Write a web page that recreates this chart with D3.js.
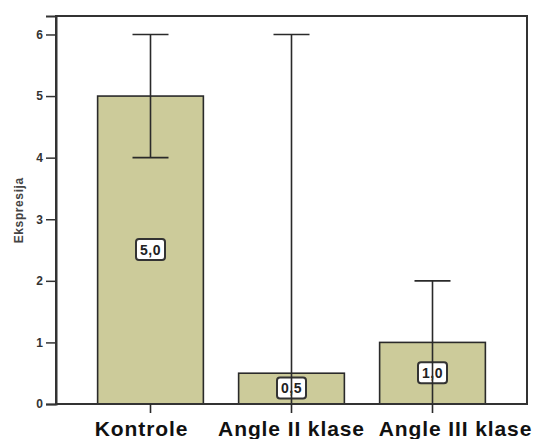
<!DOCTYPE html>
<html>
<head>
<meta charset="utf-8">
<script src="https://cdn.jsdelivr.net/npm/d3@7"></script>
<style>
  html, body { margin: 0; padding: 0; background: #fff; }
  svg { display: block; }
</style>
</head>
<body>
<svg id="chart" width="534" height="439"></svg>
<script>
// Group means of expression with their error-bar limits
const categories = ["Kontrole", "Angle II klase", "Angle III klase"];
const means = [5.0, 0.5, 1.0];
const lowerLimits = [4, 0, 0];
const upperLimits = [6, 6, 2];
const yTicks = [0, 1, 2, 3, 4, 5, 6];
const yTitle = "Ekspresija";

const plot = { left: 56, right: 527, top: 16, bottom: 404 };
const font = "Liberation Sans, Arial, sans-serif";
// horizontal nudges of the category labels so the long ones do not collide
const labelShift = [-9, 0, 23];

const svg = d3.select("#chart");

const x = d3.scaleBand()
  .domain(categories)
  .range([80, 503])
  .padding(0);

const y = d3.scaleLinear()
  .domain([0, 6.3])
  .range([plot.bottom, plot.top]);

const barW = x.bandwidth() * 0.75;
const capW = 36;
const ink = "#2a2a2a";
const cx = c => x(c) + x.bandwidth() / 2;

const rows = categories.map((c, i) => ({
  cat: c, mean: means[i], lo: lowerLimits[i], hi: upperLimits[i]
}));

// Bars
svg.append("g").selectAll("rect")
  .data(rows)
  .join("rect")
  .attr("x", d => cx(d.cat) - barW / 2)
  .attr("y", d => y(d.mean))
  .attr("width", barW)
  .attr("height", d => y(0) - y(d.mean))
  .attr("fill", "#cccb9a")
  .attr("stroke", ink)
  .attr("stroke-width", 1.6);

// Value labels inside the bars, centred at half the bar height
const fmt = v => d3.format(".1f")(v).replace(".", ",");
const labels = svg.append("g").selectAll("g")
  .data(rows)
  .join("g")
  .attr("transform", d => `translate(${cx(d.cat)},${y(d.mean / 2)})`);
labels.append("rect")
  .attr("x", -14.5).attr("y", -11)
  .attr("width", 29).attr("height", 21)
  .attr("rx", 3)
  .attr("fill", "#fff")
  .attr("stroke", "#333")
  .attr("stroke-width", 2);
labels.append("text")
  .attr("text-anchor", "middle")
  .attr("dy", "0.33em")
  .attr("font-family", font)
  .attr("font-weight", "bold")
  .attr("font-size", 14)
  .attr("letter-spacing", 0.5)
  .attr("fill", "#222")
  .text(d => fmt(d.mean));

// Error bars
const eb = svg.append("g").attr("stroke", ink).attr("stroke-width", 1.6).attr("fill", "none");
rows.forEach(d => {
  const c = cx(d.cat);
  eb.append("line").attr("x1", c).attr("x2", c).attr("y1", y(d.lo)).attr("y2", y(d.hi));
  eb.append("line").attr("x1", c - capW / 2).attr("x2", c + capW / 2).attr("y1", y(d.hi)).attr("y2", y(d.hi));
  eb.append("line").attr("x1", c - capW / 2).attr("x2", c + capW / 2).attr("y1", y(d.lo)).attr("y2", y(d.lo));
});

// Frame
svg.append("rect")
  .attr("x", plot.left).attr("y", plot.top)
  .attr("width", plot.right - plot.left)
  .attr("height", plot.bottom - plot.top)
  .attr("fill", "none")
  .attr("stroke", "#333")
  .attr("stroke-width", 2);

// Y axis
const yAxis = svg.append("g")
  .attr("transform", `translate(${plot.left},0)`)
  .call(d3.axisLeft(y).tickValues(yTicks).tickFormat(d3.format("d")).tickSize(10).tickPadding(3));
yAxis.select(".domain").attr("stroke", "#333").attr("stroke-width", 2);
yAxis.selectAll(".tick line").attr("stroke", "#333").attr("stroke-width", 1.5);
yAxis.selectAll(".tick text")
  .attr("font-family", font)
  .attr("font-weight", "bold")
  .attr("font-size", 12)
  .attr("fill", "#333");

// X axis
const xAxis = svg.append("g")
  .attr("transform", `translate(0,${plot.bottom})`)
  .call(d3.axisBottom(x).tickSize(9).tickPadding(8));
xAxis.select(".domain").remove();
xAxis.selectAll(".tick line").attr("stroke", ink).attr("stroke-width", 1.6);
xAxis.selectAll(".tick text")
  .attr("dx", (d, i) => labelShift[i])
  .attr("font-family", font)
  .attr("font-weight", "bold")
  .attr("font-size", 21)
  .attr("letter-spacing", 0.9)
  .attr("fill", "#111");

// Y axis title
svg.append("text")
  .attr("transform", `translate(23,${(y(0) + y(6)) / 2 - 9}) rotate(-90)`)
  .attr("text-anchor", "middle")
  .attr("font-family", font)
  .attr("font-weight", "bold")
  .attr("font-size", 12)
  .attr("letter-spacing", 0.6)
  .attr("fill", "#444")
  .text(yTitle);
</script>
</body>
</html>
